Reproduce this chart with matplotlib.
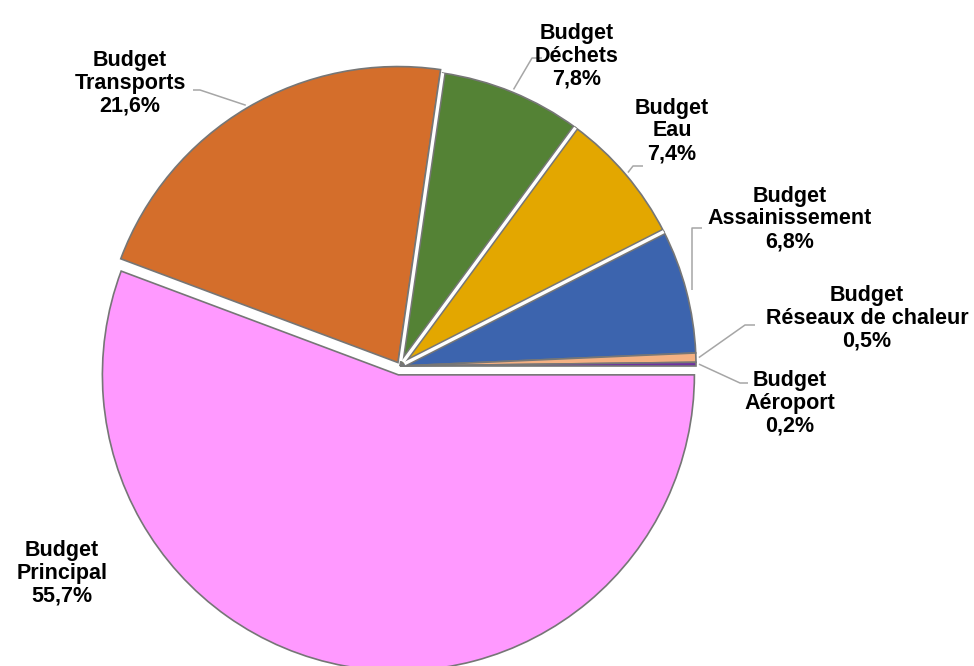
import math

import matplotlib.pyplot as plt

plt.rcParams["font.family"] = ["Liberation Sans", "DejaVu Sans"]

# data
names = ["Principal", "Transports", "Déchets", "Eau", "Assainissement",
         "Réseaux de chaleur", "Aéroport"]
shares = [55.7, 21.6, 7.8, 7.4, 6.8, 0.5, 0.2]
colors = ["#FF99FF", "#D46E2B", "#548235", "#E3A700", "#3C64AE",
          "#F4B183", "#7030A0"]

# layout (pixel coords, y from top)
W, H = 974, 666
center = (400, 366)
radius = 296
explode = [9, 4, 0, 0, 0, 0, 0]
label_pos = [(62, 573), (130, 83), (577, 56), (672, 131), (790, 219),
             (867, 318), (790, 403)]
# leader: (start on label side, elbow x) or None
leaders = [None, ((193, 90), 200), ((542, 58), 532), ((643, 166), 633),
           ((702, 228), 692), ((755, 325), 745), ((748, 383), 740)]
# wedges whose leading edge gets a white separator
separated = [2, 3, 4]

fig = plt.figure(figsize=(W / 100, H / 100), dpi=100)
ax = fig.add_axes([0, 0, 1, 1])

wedges, _ = ax.pie(
    shares,
    colors=colors,
    startangle=0,
    counterclock=False,
    radius=radius,
    center=(center[0], H - center[1]),
    explode=explode,
    wedgeprops=dict(edgecolor="#767676", linewidth=1.2),
    frame=True,
)
ax.set_xlim(0, W)
ax.set_ylim(0, H)
ax.set_aspect("equal")
ax.axis("off")

# white gaps between the mid-size slices, each side keeping its grey rim
for lw, col, z in [(4.6, "#767676", 3), (2.4, "white", 4)]:
    for k in separated:
        w = wedges[k]
        a = math.radians(w.theta2)
        cx, cy = w.center
        r0 = 5
        ax.plot([cx + r0 * math.cos(a), cx + radius * math.cos(a)],
                [cy + r0 * math.sin(a), cy + radius * math.sin(a)],
                color=col, lw=lw, solid_capstyle="butt", zorder=z)

for i, (name, share) in enumerate(zip(names, shares)):
    w = wedges[i]
    lx, ly = label_pos[i]
    text = f"Budget\n{name}\n{share:.1f}%".replace(".", ",")
    ax.text(lx, H - ly, text, ha="center", va="center", fontsize=15.5,
            fontweight="bold", linespacing=1.12, color="black")
    if leaders[i] is None:
        continue
    (sx, sy), ex = leaders[i]
    mid = math.radians((w.theta1 + w.theta2) / 2)
    cx, cy = w.center
    ty = cy + radius * 1.01 * math.sin(mid)
    if i == 4:
        tx = ex  # straight drop to the slice
    else:
        tx = cx + radius * 1.01 * math.cos(mid)
    ax.plot([sx, ex, tx], [H - sy, H - sy, ty], color="#A6A6A6", lw=1.1,
            solid_capstyle="butt", zorder=0)

fig.savefig("out.png", dpi=100)
